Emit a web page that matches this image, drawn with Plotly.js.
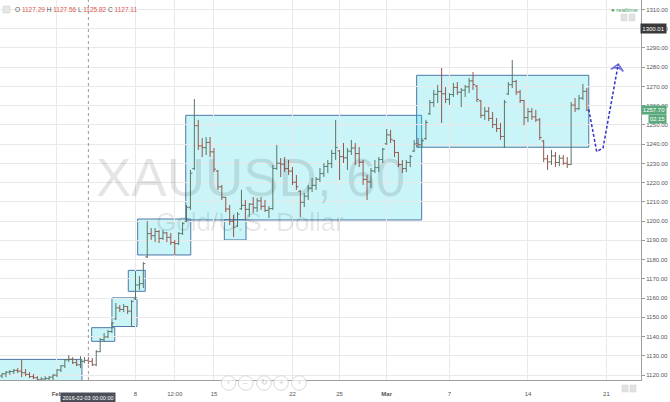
<!DOCTYPE html>
<html><head><meta charset="utf-8">
<script src="https://cdn.plot.ly/plotly-3.0.1.min.js"></script>
<style>html,body{margin:0;padding:0;background:#fff;}#chart{width:670px;height:402px;}</style>
</head><body><div id="chart"></div>
<script>
// ---- OHLC data (6-hour bars) ----
const barOpen=[
1119.5,1120.6,1121.5,1121.8,1122.4,1122.0,1121.2,1120.3,1119.2,1118.6,
1117.5,1117.9,1118.2,1118.9,1119.9,1122.6,1124.8,1127.9,1128.2,1126.4,
1125.3,1127.1,1127.6,1127.1,1125.3,1132.1,1138.4,1139.8,1142.6,1149.2,
1154.9,1154.1,1155.6,1153.2,1159.6,1166.8,1167.5,1181.4,1193.5,1192.4,
1194.6,1191.0,1193.9,1191.6,1188.9,1188.3,1193.6,1199.9,1207.2,1227.3,
1249.6,1239.1,1238.2,1240.9,1236.0,1226.0,1217.8,1212.4,1206.3,1199.9,
1197.5,1206.4,1208.2,1206.1,1208.8,1206.9,1210.5,1207.7,1205.6,1206.5,
1227.4,1230.1,1229.6,1227.3,1226.0,1220.2,1215.5,1209.8,1213.0,1217.1,
1218.6,1221.8,1224.7,1228.4,1229.9,1235.2,1236.5,1233.5,1232.9,1236.4,
1238.0,1235.1,1230.6,1221.7,1220.4,1226.1,1227.8,1232.0,1240.2,1244.8,
1241.8,1235.7,1229.4,1227.3,1230.5,1236.4,1240.1,1239.7,1242.9,1255.8,
1261.6,1265.9,1267.4,1266.2,1263.3,1265.8,1269.5,1267.0,1268.1,1269.8,
1272.9,1270.2,1262.5,1255.0,1257.1,1253.4,1250.2,1248.1,1244.0,1266.1,
1270.9,1272.6,1267.1,1262.7,1253.8,1256.9,1254.2,1252.6,1241.6,1232.4,
1230.8,1233.9,1230.5,1232.7,1230.1,1229.4,1260.3,1258.4,1263.9,1267.5];
const barHigh=[
1121.0,1122.0,1122.6,1123.1,1123.6,1127.8,1123.1,1121.5,1120.5,1119.4,
1118.9,1119.4,1119.4,1120.5,1123.1,1125.2,1128.3,1130.4,1129.3,1128.3,
1129.8,1129.3,1129.3,1128.8,1133.0,1139.2,1141.8,1143.4,1147.5,1157.4,
1156.4,1156.9,1155.8,1159.0,1174.0,1171.4,1178.7,1200.0,1196.4,1196.4,
1195.4,1195.4,1194.3,1193.8,1190.2,1194.3,1199.5,1208.4,1226.6,1263.5,
1252.6,1243.2,1243.7,1243.7,1238.0,1226.6,1218.8,1212.5,1208.4,1203.2,
1204.7,1216.2,1211.0,1209.4,1212.5,1212.0,1212.5,1211.0,1207.8,1229.2,
1239.6,1232.8,1233.3,1231.8,1228.1,1224.0,1216.2,1214.6,1218.8,1222.4,
1222.9,1227.6,1230.2,1231.8,1237.0,1252.6,1237.0,1240.6,1238.0,1242.2,
1240.6,1238.5,1231.8,1224.0,1227.6,1231.8,1233.3,1238.0,1247.9,1247.4,
1242.2,1235.9,1231.8,1231.8,1234.4,1242.2,1243.2,1243.2,1252.6,1263.0,
1268.2,1270.8,1279.6,1269.7,1266.6,1271.8,1272.3,1269.2,1270.8,1274.4,
1277.5,1270.8,1263.0,1259.3,1259.3,1256.7,1253.6,1251.0,1263.0,1272.3,
1283.8,1273.4,1268.2,1263.0,1258.8,1258.8,1257.8,1253.6,1242.2,1234.4,
1237.0,1235.9,1234.4,1234.4,1233.3,1261.9,1264.0,1265.6,1271.3,1269.2];
const barLow=[
1118.4,1118.9,1120.0,1120.5,1121.0,1118.9,1119.4,1118.4,1117.9,1116.8,
1115.8,1116.3,1116.8,1117.4,1118.9,1121.5,1123.6,1126.7,1125.7,1124.6,
1123.6,1126.2,1125.7,1124.6,1124.6,1131.9,1137.1,1139.2,1141.8,1148.6,
1152.7,1152.7,1151.7,1145.4,1159.0,1164.2,1165.2,1180.8,1190.2,1189.1,
1188.6,1190.2,1189.1,1187.6,1182.4,1187.6,1192.8,1199.5,1205.8,1226.6,
1237.0,1233.3,1234.4,1233.3,1225.5,1216.2,1211.0,1204.7,1198.0,1191.7,
1196.9,1205.8,1200.6,1202.1,1204.2,1204.7,1205.8,1204.7,1201.6,1205.8,
1226.6,1222.9,1225.5,1224.0,1218.8,1216.2,1202.1,1207.3,1211.0,1215.1,
1216.2,1220.3,1222.9,1225.0,1227.6,1231.8,1221.4,1230.2,1226.6,1234.4,
1229.2,1228.1,1218.8,1211.0,1217.2,1225.0,1225.5,1230.2,1239.6,1240.6,
1233.3,1228.1,1225.0,1225.5,1228.1,1235.9,1238.5,1238.5,1242.2,1255.2,
1259.3,1261.4,1251.0,1261.4,1260.4,1264.5,1265.6,1259.3,1264.5,1266.6,
1268.2,1261.9,1253.6,1252.6,1252.0,1248.4,1246.3,1242.2,1238.0,1265.6,
1269.2,1265.6,1261.4,1249.9,1251.5,1252.6,1251.5,1242.2,1230.7,1226.6,
1229.2,1228.1,1228.6,1229.2,1227.6,1229.2,1256.7,1257.8,1263.0,1257.2];
const barClose=[
1120.6,1121.5,1121.8,1122.4,1122.0,1121.2,1120.3,1119.2,1118.6,1117.5,
1117.9,1118.2,1118.9,1119.9,1122.6,1124.8,1127.9,1128.2,1126.4,1125.3,
1127.1,1127.6,1127.1,1125.3,1132.1,1138.4,1139.8,1142.6,1147.0,1154.9,
1154.1,1155.6,1153.2,1158.2,1166.8,1167.5,1177.9,1193.5,1192.4,1194.6,
1191.0,1193.9,1191.6,1188.9,1188.3,1193.6,1198.7,1207.2,1224.9,1249.6,
1239.1,1238.2,1240.9,1236.0,1227.0,1217.8,1212.4,1206.3,1199.9,1196.8,
1203.6,1208.2,1206.1,1208.8,1206.9,1210.5,1207.7,1205.6,1206.5,1227.4,
1230.1,1229.6,1227.3,1226.0,1220.2,1217.9,1209.8,1213.0,1217.1,1218.6,
1221.8,1224.7,1228.4,1229.9,1235.2,1238.3,1233.5,1232.9,1236.4,1238.0,
1235.1,1230.6,1221.7,1220.4,1226.1,1227.8,1232.0,1237.4,1244.8,1242.5,
1235.7,1229.4,1227.3,1230.5,1233.6,1240.1,1239.7,1241.8,1251.3,1261.6,
1265.9,1267.4,1266.2,1263.3,1265.8,1269.5,1267.0,1268.1,1269.8,1272.9,
1271.0,1263.2,1255.0,1257.1,1253.4,1250.2,1248.1,1244.0,1261.8,1270.9,
1272.6,1267.1,1262.7,1253.8,1256.9,1254.2,1252.6,1243.5,1232.4,1230.8,
1233.9,1230.5,1232.7,1230.1,1229.4,1260.3,1258.4,1263.9,1267.5,1257.7];
const firstBarTime='2016-01-26T12:00:00Z';
const hoursPerBar=6;

// ---- drawn rectangles (time span and price span) ----
const zoneStart=['2016-01-26 00:00','2016-02-03 05:00','2016-02-04 12:00','2016-02-05 13:00','2016-02-08 03:20','2016-02-11 04:50','2016-02-15 15:50','2016-03-02 21:50'];
const zoneEnd=['2016-02-02 14:10','2016-02-04 16:20','2016-02-08 02:25','2016-02-08 14:55','2016-02-11 12:30','2016-03-03 05:30','2016-02-17 01:00','2016-03-17 20:55'];
const zoneTop=[1128.1,1144.6,1160.1,1174.4,1201.1,1255.0,1200.8,1275.8];
const zoneBottom=[1110.0,1137.5,1145.2,1163.5,1182.4,1200.6,1190.2,1238.4];

// ---- projected path (dashed arrow) ----
const projTime=['2016-03-17 20:55','2016-03-18 09:05','2016-03-18 18:45','2016-03-21 18:00'];
const projPrice=[1258.1,1236.1,1238.0,1281.6];

// ---- axis ticks ----
const tickTimes=['2016-02-01 00:00','2016-02-08 00:00','2016-02-10 12:00','2016-02-15 00:00','2016-02-22 00:00','2016-02-25 00:00','2016-03-01 00:00','2016-03-07 00:00','2016-03-14 00:00','2016-03-21 00:00'];
const tickText=['<b>Feb</b>','8','12:00','15','22','25','<b>Mar</b>','7','14','21'];

// ---- labels ----
const hdrOpen='1127.29', hdrHigh='1127.56', hdrLow='1125.82', hdrClose='1127.11';
const lastPrice=1257.70, countdown='02:15', alertPrice=1300.01;
const crossTime='2016-02-03 00:00', crossLabel='2016-02-03 00:00:00';
const symbolTitle='XAUUSD, 60', symbolDesc='Gold/U.S. Dollar';

function pad(n){return (n<10?'0':'')+n;}
function buildBarTimes(startISO,count,step){
  const out=[];let t=Date.parse(startISO);
  while(out.length<count){const d=new Date(t);const wd=d.getUTCDay();
    if(wd!==0&&wd!==6){out.push(d.getUTCFullYear()+'-'+pad(d.getUTCMonth()+1)+'-'+pad(d.getUTCDate())+' '+pad(d.getUTCHours())+':'+pad(d.getUTCMinutes()));}
    t+=step*3600000;}
  return out;
}
const barTime=buildBarTimes(firstBarTime,barClose.length,hoursPerBar);

// pixel helpers for decorations (plot area 641 x 380)
const PW=641, PH=380;
const px=v=>v/PW, py=v=>(PH-v)/PH;

const FONT='Liberation Sans, Arial, sans-serif';
const shapes=[];
for(let i=0;i<zoneStart.length;i++){
  shapes.push({type:'rect',xref:'x',yref:'y',x0:zoneStart[i],x1:zoneEnd[i],y0:zoneBottom[i],y1:zoneTop[i],
    fillcolor:'rgba(40,214,230,0.25)',line:{color:'#4b78a8',width:1},layer:'below'});
}
shapes.push({type:'line',xref:'x',yref:'paper',x0:crossTime,x1:crossTime,y0:0,y1:1,line:{color:'#9a9a9a',width:1,dash:'dot'},layer:'above'});
// small buttons
[[621,14],[629,14],[622,385],[630,385]].forEach(b=>{
  shapes.push({type:'rect',xref:'paper',yref:'paper',x0:px(b[0]),x1:px(b[0]+6),y0:py(b[1]+7),y1:py(b[1]),fillcolor:'#e2e2e2',line:{color:'#d0d0d0',width:0.5}});
});
shapes.push({type:'rect',xref:'paper',yref:'paper',x0:px(3),x1:px(10),y0:py(13),y1:py(6),fillcolor:'#e6e6e6',line:{color:'#cfcfcf',width:0.5}});
// navigation circles
const navX=[228.6,245.7,264,281,299], navGlyph=['‹','–','↻','+','›'];
const annotations=[];
navX.forEach((cx,i)=>{
  shapes.push({type:'circle',xref:'paper',yref:'paper',x0:px(cx-7.3),x1:px(cx+7.3),y0:py(383+7.3),y1:py(383-7.3),fillcolor:'rgba(255,255,255,0.7)',line:{color:'#d9d9d9',width:1}});
  annotations.push({xref:'paper',yref:'paper',x:px(cx),y:py(383),text:navGlyph[i],showarrow:false,font:{family:FONT,size:8,color:'#c9c9c9'},xanchor:'center',yanchor:'middle'});
});

annotations.push(
 {xref:'paper',yref:'paper',x:px(250),y:py(177),text:symbolTitle,showarrow:false,font:{family:FONT,size:53,color:'rgba(0,0,0,0.10)'},xanchor:'center',yanchor:'middle'},
 {xref:'paper',yref:'paper',x:px(250),y:py(222),text:symbolDesc,showarrow:false,font:{family:FONT,size:26,color:'rgba(0,0,0,0.10)'},xanchor:'center',yanchor:'middle'},
 {xref:'paper',yref:'paper',x:px(13),y:py(10),xanchor:'left',yanchor:'middle',showarrow:false,
  font:{family:FONT,size:6.5,color:'#555'},
  text:'O <span style="color:#e0574c">'+hdrOpen+'</span> H <span style="color:#e0574c">'+hdrHigh+'</span> L <span style="color:#e0574c">'+hdrLow+'</span> C <span style="color:#e0574c">'+hdrClose+'</span>'},
 {xref:'paper',yref:'paper',x:px(640),y:py(9.5),xanchor:'right',yanchor:'middle',showarrow:false,text:'● realtime',font:{family:FONT,size:6,color:'#3f9f67'}},
 {xref:'paper',yref:'y',x:px(667),y:alertPrice,xanchor:'right',yanchor:'middle',showarrow:false,text:alertPrice.toFixed(2),bgcolor:'#3a3a3a',font:{family:FONT,size:6,color:'#fff'},borderpad:1.5,width:22},
 {xref:'paper',yref:'y',x:px(667),y:lastPrice,xanchor:'right',yanchor:'middle',showarrow:false,text:lastPrice.toFixed(2),bgcolor:'#5aa97c',font:{family:FONT,size:6,color:'#fff'},borderpad:1,width:22},
 {xref:'paper',yref:'paper',x:px(667),y:py(118.5),xanchor:'right',yanchor:'middle',showarrow:false,text:countdown,bgcolor:'#5aa97c',font:{family:FONT,size:6,color:'#fff'},borderpad:1,width:15},
 {xref:'x',yref:'paper',x:crossTime,y:py(397),xanchor:'center',yanchor:'middle',showarrow:false,text:crossLabel,bgcolor:'#4a4f5a',font:{family:FONT,size:5.5,color:'#fff'},borderpad:1.5}
);

const traces=[
 {type:'ohlc',x:barTime,open:barOpen,high:barHigh,low:barLow,close:barClose,
  increasing:{line:{color:'#5a7565',width:1}},decreasing:{line:{color:'#95564c',width:1}},tickwidth:0.5,hoverinfo:'skip'},
 {type:'scatter',mode:'lines+markers',x:projTime,y:projPrice,hoverinfo:'skip',
  line:{color:'#3333cc',width:1.5,dash:'3px,2px'},
  marker:{symbol:'arrow-wide-open',size:[0,0,0,9],angleref:'previous',color:'#3333cc',line:{color:'#3333cc',width:1.5}}}
];

const layout={
 width:670,height:402,margin:{l:0,r:29,t:0,b:22},paper_bgcolor:'#fff',plot_bgcolor:'#fff',showlegend:false,
 font:{family:FONT,color:'#555'},
 xaxis:{type:'date',range:['2016-01-26 08:53','2016-03-23 04:48'],rangebreaks:[{bounds:['sat','mon']}],
   rangeslider:{visible:false},tickmode:'array',tickvals:tickTimes,ticktext:tickText,ticks:'',
   tickfont:{family:FONT,size:6,color:'#555'},ticklabelstandoff:8,showgrid:true,gridcolor:'#e9e9e9',gridwidth:1,
   showline:true,linecolor:'#a0a0a0',linewidth:1,zeroline:false,fixedrange:true},
 yaxis:{side:'right',range:[1117.4,1314.95],tick0:1120,dtick:10,tickformat:'.2f',ticks:'outside',ticklen:3,tickcolor:'#999',
   tickfont:{family:FONT,size:6,color:'#555'},showgrid:true,gridcolor:'#e9e9e9',gridwidth:1,
   showline:true,linecolor:'#a0a0a0',linewidth:1,zeroline:false,fixedrange:true},
 shapes:shapes,annotations:annotations
};
Plotly.newPlot('chart',traces,layout,{displayModeBar:false,staticPlot:true});
</script>
</body></html>
